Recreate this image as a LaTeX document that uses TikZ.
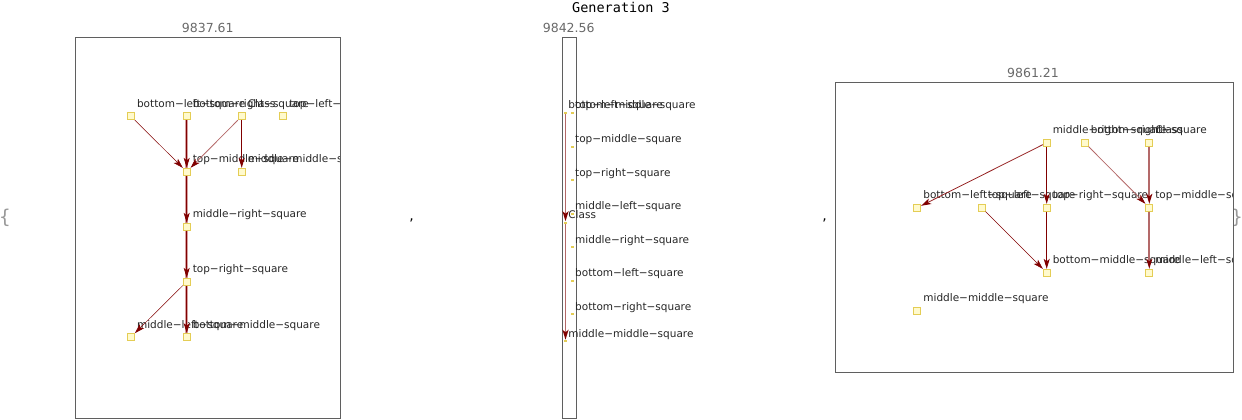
\documentclass[tikz,border=0pt]{standalone}
\usepackage{fontspec}
\setmainfont{DejaVu Sans}
\newfontfamily\titlefont{DejaVu Sans Mono}
\usepackage{xcolor}
\usepackage{tikz}
\usetikzlibrary{arrows.meta}
\definecolor{edgedark}{RGB}{128,0,0}
\definecolor{edgemid}{RGB}{150,35,35}
\definecolor{edgelight}{RGB}{180,105,105}
\definecolor{edgehalo}{RGB}{215,160,160}
\definecolor{vfill}{RGB}{255,250,205}
\definecolor{vline}{RGB}{228,205,85}
\definecolor{framegray}{RGB}{95,95,95}
\definecolor{scoregray}{RGB}{105,105,105}
\tikzset{
  vsq/.style={draw=vline, fill=vfill, line width=0.7pt, inner sep=0pt, minimum size=7pt},
  vtiny/.style={fill=vline, inner sep=0pt, minimum width=3pt, minimum height=2pt},
  vlab/.style={font=\fontsize{10.5}{12}\selectfont, text=black!85, inner sep=0pt, anchor=base west, xshift=2pt, yshift=5pt},
  tlab/.style={vlab, xshift=-1pt, yshift=-2.5pt},
  score/.style={font=\fontsize{12.5}{14}\selectfont, text=scoregray, anchor=base},
  panel/.style={draw=framegray, line width=0.7pt},
  tip/.style={-{Stealth[length=10pt,width=6pt,inset=2.5pt,color=edgedark]}},
  ethin/.style={tip, draw=edgedark, line width=0.5pt},
  edark/.style={tip, draw=edgedark, line width=1pt},
  emid/.style={tip, draw=edgemid, line width=0.8pt},
  elight/.style={tip, draw=edgelight, line width=0.8pt},
  ewide/.style={tip, draw=edgelight, line width=1.8pt},
  ehalo/.style={tip, draw=edgedark, line width=0.8pt, preaction={draw=edgehalo, line width=2.8pt, -}}
}

\begin{document}
\begin{tikzpicture}[x=1pt, y=-1pt]
\useasboundingbox (0,0) rectangle (1242,420);
% Title
\node[font=\titlefont\fontsize{13.5}{15}\selectfont, anchor=base] (title) at (621,12.7) {Generation 3};
% List brackets and commas
\node[font=\fontsize{19}{21}\selectfont, text=black!40] (lbr) at (5,218) {\{};
\node[font=\fontsize{19}{21}\selectfont, text=black!40] (rbr) at (1237,218) {\}};
\node[font=\fontsize{14}{16}\selectfont] (com1) at (411.5,220) {,};
\node[font=\fontsize{14}{16}\selectfont] (com2) at (824.5,220) {,};

% First graph
\node[score] (s1) at (207.8,32.7) {9837.61};
\begin{scope}
\clip (75.3,37.3) rectangle (340.3,418.3);
\node[vsq, label={[vlab]north east:bottom−left−square}] (bl1) at (131,116.3) {};
\node[vsq, label={[vlab]north east:bottom−right−square}] (br1) at (186.7,116.3) {};
\node[vsq, label={[vlab]north east:Class}] (cl1) at (241.7,116.3) {};
\node[vsq, label={[vlab]north east:top−left−square}] (tl1) at (283.3,116.3) {};
\node[vsq, label={[vlab]north east:top−middle−square}] (tm1) at (186.7,171.7) {};
\node[vsq, label={[vlab]north east:middle−middle−square}] (mm1) at (241.7,171.7) {};
\node[vsq, label={[vlab]north east:middle−right−square}] (mr1) at (186.7,226.7) {};
\node[vsq, label={[vlab]north east:top−right−square}] (tr1) at (186.7,281.7) {};
\node[vsq, label={[vlab]north east:middle−left−square}] (ml1) at (131,337) {};
\node[vsq, label={[vlab]north east:bottom−middle−square}] (bm1) at (186.7,337) {};
\draw[ethin] (bl1) -- (tm1);
\draw[ehalo] (br1) -- (tm1);
\draw[elight] (cl1) -- (tm1);
\draw[edark] (cl1) -- (mm1);
\draw[ehalo] (tm1) -- (mr1);
\draw[ehalo] (mr1) -- (tr1);
\draw[ethin] (tr1) -- (ml1);
\draw[ehalo] (tr1) -- (bm1);
\end{scope}
\draw[panel] (75.3,37.3) rectangle (340.3,418.3);

% Second graph (narrow)
\node[score] (s2) at (568.7,32.7) {9842.56};
\draw[panel] (562.3,37.3) rectangle (576.7,418.3);
\node[vtiny, label={[tlab]north east:bottom−middle−square}] (bm2) at (565.5,112.5) {};
\node[vtiny, label={[tlab]north east:Class}] (cl2) at (565.5,222.5) {};
\node[vtiny, label={[tlab]north east:middle−middle−square}] (mm2) at (565.5,341) {};
\node[vtiny, label={[tlab]north east:top−left−square}] (tl2) at (572.3,112.5) {};
\node[vtiny, label={[tlab]north east:top−middle−square}] (tm2) at (572.3,146.5) {};
\node[vtiny, label={[tlab]north east:top−right−square}] (tr2) at (572.3,180) {};
\node[vtiny, label={[tlab]north east:middle−left−square}] (ml2) at (572.3,213.5) {};
\node[vtiny, label={[tlab]north east:middle−right−square}] (mr2) at (572.3,247) {};
\node[vtiny, label={[tlab]north east:bottom−left−square}] (bl2) at (572.3,280.5) {};
\node[vtiny, label={[tlab]north east:bottom−right−square}] (br2) at (572.3,314) {};
\draw[ewide] (bm2) -- (cl2);
\draw[ewide] (cl2) -- (mm2);

% Third graph
\node[score] (s3) at (1033,77.3) {9861.21};
\begin{scope}
\clip (835.3,82.7) rectangle (1233.3,372.3);
\node[vsq, label={[vlab]north east:middle−right−square}] (mr3) at (1046.7,142.7) {};
\node[vsq, label={[vlab]north east:bottom−right−square}] (br3) at (1084.7,142.7) {};
\node[vsq, label={[vlab]north east:Class}] (cl3) at (1149.3,142.7) {};
\node[vsq, label={[vlab]north east:bottom−left−square}] (bl3) at (917.3,207.7) {};
\node[vsq, label={[vlab]north east:top−left−square}] (tl3) at (981.7,207.7) {};
\node[vsq, label={[vlab]north east:top−right−square}] (tr3) at (1046.7,207.7) {};
\node[vsq, label={[vlab]north east:top−middle−square}] (tm3) at (1149.3,207.7) {};
\node[vsq, label={[vlab]north east:bottom−middle−square}] (bm3) at (1046.7,272.7) {};
\node[vsq, label={[vlab]north east:middle−left−square}] (ml3) at (1149.3,272.7) {};
\node[vsq, label={[vlab]north east:middle−middle−square}] (mm3) at (917.3,310.7) {};
\draw[emid] (mr3) -- (bl3);
\draw[edark] (mr3) -- (tr3);
\draw[elight] (br3) -- (tm3);
\draw[ewide] (cl3) -- (tm3);
\draw[ethin] (tl3) -- (bm3);
\draw[edark] (tr3) -- (bm3);
\draw[ewide] (tm3) -- (ml3);
\end{scope}
\draw[panel] (835.3,82.7) rectangle (1233.3,372.3);
\end{tikzpicture}
\end{document}
